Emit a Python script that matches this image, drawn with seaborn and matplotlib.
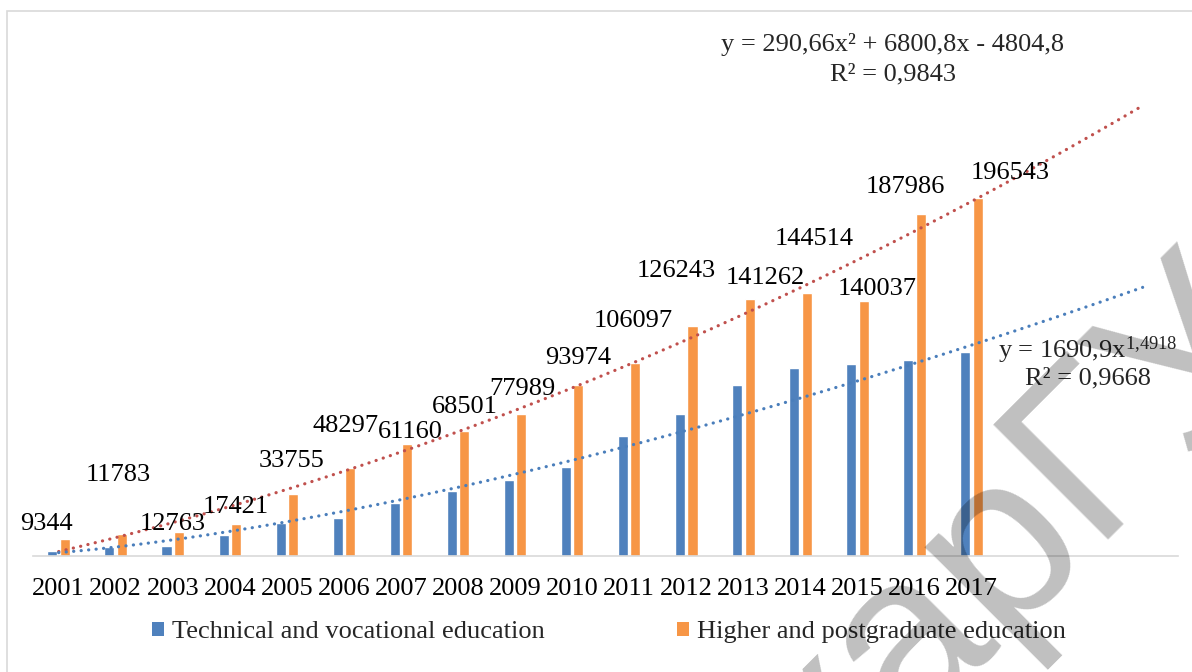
import matplotlib
matplotlib.use("Agg")
from matplotlib import pyplot as plt
from matplotlib.patches import Patch, Rectangle
import numpy as np
import pandas as pd
import seaborn as sns

years = [str(y) for y in range(2001, 2018)]
technical = [2750, 4600, 5200, 11600, 17800, 20900, 29000, 35600, 41500, 48800,
             65800, 77800, 93900, 103200, 105400, 107500, 112000]
higher = [9344, 11783, 12763, 17421, 33755, 48297, 61160, 68501, 77989, 93974,
          106097, 126243, 141262, 144514, 140037, 187986, 196543]
series_names = ["Technical and vocational education", "Higher and postgraduate education"]

# trendline coefficients as printed on the chart (Excel, 3 periods forecast)
poly_coef = [290.66, 6800.8, -4804.8]
power_a, power_b = 1690.9, 1.4918
forecast = 3

# where the (hand moved) data labels sit relative to the bar top, in pixels
label_dx = [-19, -4, -6, 0, -2, -5, 3, 1, 1, 0, -2, -16, 16, 8, 14, -15, 32]
label_dy = [15, 59, 8, 17, 33, 42, 12, 24, 25, 27, 42, 55, 21, 54, 12, 27, 25]

blue, orange = "#4F81BD", "#F79646"

sns.set_theme(style="white")
plt.rcParams["font.family"] = ["Liberation Serif", "DejaVu Serif"]
plt.rcParams["mathtext.fontset"] = "custom"
plt.rcParams["mathtext.rm"] = "Liberation Serif"
plt.rcParams["mathtext.it"] = "Liberation Serif:italic"

df = pd.DataFrame({
    "year": years * 2,
    "value": technical + higher,
    "series": [series_names[0]] * len(years) + [series_names[1]] * len(years),
})

fig = plt.figure(figsize=(11.92, 6.72), dpi=100)
ax = fig.add_axes([33 / 1192, 1 - 555.7 / 672, (1178 - 33) / 1192, (555.7 - 10.2) / 672])

sns.barplot(data=df, x="year", y="value", hue="series", palette=[blue, orange],
            width=0.44, gap=0.2, saturation=1, legend=False, ax=ax, zorder=2)

# trendlines
xt = np.linspace(1, len(years) + forecast, 300)
ax.plot(xt - 1, np.polyval(poly_coef, xt), color="#C0504D", lw=2.3,
        linestyle=(0, (0.05, 2.3)), dash_capstyle="round", zorder=3)
ax.plot(xt - 1, power_a * xt ** power_b, color="#4A7EBB", lw=2.3,
        linestyle=(0, (0.05, 2.3)), dash_capstyle="round", zorder=3)

# data labels for the orange series
for i, v in enumerate(higher):
    ax.annotate(str(v), xy=(i + 0.11, v),
                xytext=(label_dx[i] * 0.72, label_dy[i] * 0.72), textcoords="offset points",
                ha="center", va="center", fontsize=19, color="black", zorder=4)

ax.set_xlim(-0.45, len(years) - 1 + 3.62)
ax.set_ylim(0, 300000)
ax.set_xlabel("")
ax.set_ylabel("")
ax.set_yticks([])
ax.tick_params(axis="x", length=0, labelsize=19, pad=16, colors="black")
for s in ["top", "right", "left"]:
    ax.spines[s].set_visible(False)
ax.spines["bottom"].set_color("#d9d9d9")
ax.spines["bottom"].set_linewidth(1.2)

# trendline equations
fig.text(893 / 1192, 1 - 45 / 672, "y = 290,66x² + 6800,8x - 4804,8",
         ha="center", va="center", fontsize=19)
fig.text(893 / 1192, 1 - 74 / 672, "R² = 0,9843", ha="center", va="center", fontsize=19)
fig.text(1088 / 1192, 1 - 350 / 672, r"y = 1690,9x$^{1{,}4918}$",
         ha="center", va="center", fontsize=19)
fig.text(1088 / 1192, 1 - 378 / 672, "R² = 0,9668", ha="center", va="center", fontsize=19)

handles = [Patch(facecolor=blue, edgecolor="none"), Patch(facecolor=orange, edgecolor="none")]
fig.legend(handles, series_names, loc="center", bbox_to_anchor=(609 / 1192, 1 - 632 / 672),
           ncol=2, frameon=False, fontsize=19, handlelength=0.45, handleheight=0.45,
           handletextpad=0.3, columnspacing=5.0)

# chart border
fig.patches.append(Rectangle((7 / 1192, -0.5), 2, 0.5 + 1 - 10.5 / 672, transform=fig.transFigure,
                             fill=False, edgecolor="#d9d9d9", lw=1.2))

# watermark
fig.text(1015 / 1192, 1 - 532 / 672, "карГУ", rotation=45, fontsize=170, color="black",
         alpha=0.25, ha="center", va="center", family="Liberation Sans", zorder=10)

fig.savefig("out.png", dpi=100)
